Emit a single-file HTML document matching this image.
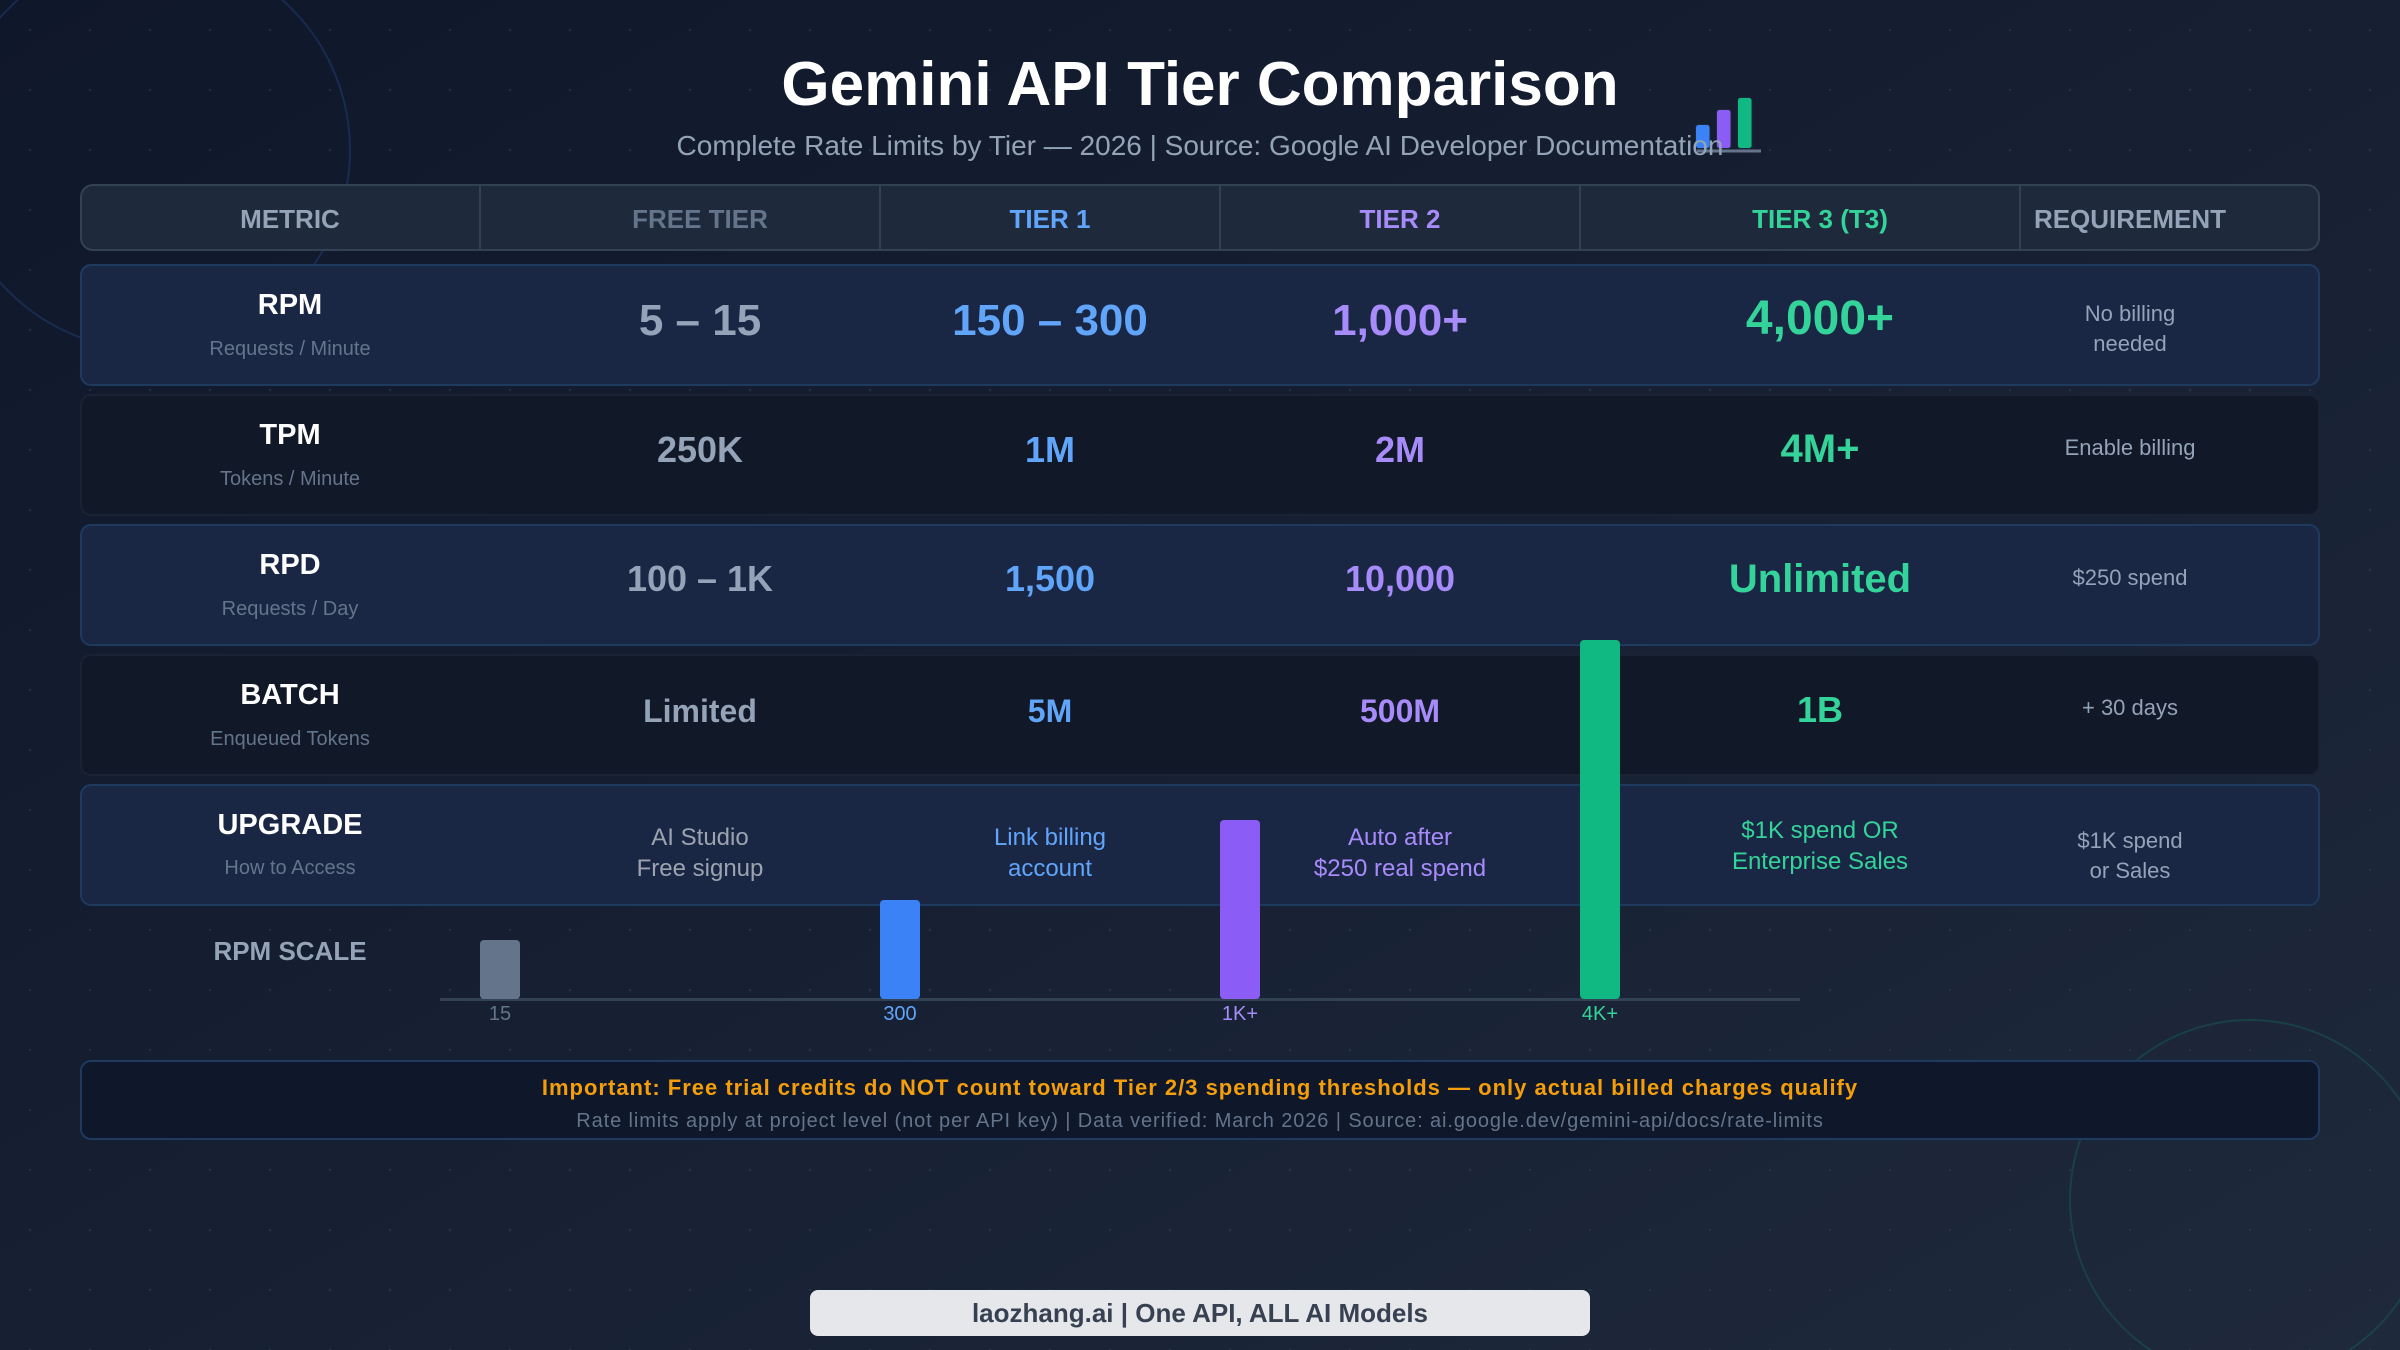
<!DOCTYPE html>
<html>
<head>
<meta charset="utf-8">
<style>
  html, body { margin: 0; padding: 0; background: #0f172a; }
  body { width: 2400px; height: 1350px; overflow: hidden; }
  svg { display: block; }
  text { font-family: "Liberation Sans", Arial, sans-serif; }
</style>
</head>
<body>
<svg width="2400" height="1350" viewBox="0 0 2400 1350" xmlns="http://www.w3.org/2000/svg">
  <defs>
    <linearGradient id="bg" x1="0" y1="0" x2="1" y2="1">
      <stop offset="0" stop-color="#0f172a"/>
      <stop offset="1" stop-color="#1e293b"/>
    </linearGradient>
    <pattern id="dots" x="0" y="0" width="60" height="60" patternUnits="userSpaceOnUse">
      <rect x="29" y="29" width="2" height="2" fill="#334155" opacity="0.55"/>
    </pattern>
  </defs>

  <!-- background -->
  <rect x="0" y="0" width="2400" height="1350" fill="url(#bg)"/>
  <rect x="0" y="0" width="2400" height="1350" fill="url(#dots)"/>

  <!-- decorative circles -->
  <circle cx="150" cy="150" r="200" fill="none" stroke="#3b82f6" stroke-opacity="0.18" stroke-width="2"/>
  <circle cx="2250" cy="1200" r="180" fill="none" stroke="#10b981" stroke-opacity="0.18" stroke-width="2"/>

  <!-- title icon -->
  <rect x="1695.5" y="124.5" width="14.5" height="24" rx="3" fill="#3b82f6" stroke="#1e293b" stroke-width="1"/>
  <rect x="1716.5" y="109.5" width="14.5" height="39" rx="3" fill="#8b5cf6" stroke="#1e293b" stroke-width="1"/>
  <rect x="1737.5" y="97.5" width="14.5" height="51" rx="3" fill="#10b981" stroke="#1e293b" stroke-width="1"/>
  <rect x="1697" y="149.5" width="64" height="3" fill="#64748b"/>

  <!-- title -->
  <text x="1200" y="105" text-anchor="middle" font-size="62" font-weight="bold" fill="#ffffff">Gemini API Tier Comparison</text>
  <text x="1200" y="155" text-anchor="middle" font-size="28" fill="#94a3b8">Complete Rate Limits by Tier — 2026 | Source: Google AI Developer Documentation</text>

  <!-- header -->
  <rect x="81" y="185" width="2238" height="65" rx="12" fill="#1e293b" stroke="#334155" stroke-width="2"/>
  <g stroke="#334155" stroke-width="2">
    <line x1="480" y1="186" x2="480" y2="249"/>
    <line x1="880" y1="186" x2="880" y2="249"/>
    <line x1="1220" y1="186" x2="1220" y2="249"/>
    <line x1="1580" y1="186" x2="1580" y2="249"/>
    <line x1="2020" y1="186" x2="2020" y2="249"/>
  </g>
  <g font-size="26" font-weight="bold" text-anchor="middle">
    <text x="290" y="228" fill="#94a3b8">METRIC</text>
    <text x="700" y="228" fill="#64748b">FREE TIER</text>
    <text x="1050" y="228" fill="#60a5fa">TIER 1</text>
    <text x="1400" y="228" fill="#a78bfa">TIER 2</text>
    <text x="1820" y="228" fill="#34d399">TIER 3 (T3)</text>
    <text x="2130" y="228" fill="#94a3b8">REQUIREMENT</text>
  </g>

  <!-- rows backgrounds -->
  <rect x="81" y="265" width="2238" height="120" rx="10" fill="#1a2744" stroke="#1e3a5f" stroke-width="2"/>
  <rect x="81" y="395" width="2238" height="120" rx="10" fill="#111827" stroke="#1a2333" stroke-width="2"/>
  <rect x="81" y="525" width="2238" height="120" rx="10" fill="#1a2744" stroke="#1e3a5f" stroke-width="2"/>
  <rect x="81" y="655" width="2238" height="120" rx="10" fill="#111827" stroke="#1a2333" stroke-width="2"/>
  <rect x="81" y="785" width="2238" height="120" rx="10" fill="#1a2744" stroke="#1e3a5f" stroke-width="2"/>

  <!-- Row 1: RPM -->
  <text x="290" y="314" text-anchor="middle" font-size="29" font-weight="bold" fill="#ffffff">RPM</text>
  <text x="290" y="355" text-anchor="middle" font-size="20" fill="#64748b">Requests / Minute</text>
  <g text-anchor="middle" font-weight="bold">
    <text x="700" y="335" font-size="44" fill="#94a3b8">5 – 15</text>
    <text x="1050" y="335" font-size="44" fill="#60a5fa">150 – 300</text>
    <text x="1400" y="335" font-size="44" fill="#a78bfa">1,000+</text>
    <text x="1820" y="334" font-size="48" fill="#34d399">4,000+</text>
  </g>
  <text x="2130" y="321" text-anchor="middle" font-size="22" fill="#94a3b8">No billing</text>
  <text x="2130" y="351" text-anchor="middle" font-size="22" fill="#94a3b8">needed</text>

  <!-- Row 2: TPM -->
  <text x="290" y="444" text-anchor="middle" font-size="29" font-weight="bold" fill="#ffffff">TPM</text>
  <text x="290" y="485" text-anchor="middle" font-size="20" fill="#64748b">Tokens / Minute</text>
  <g text-anchor="middle" font-weight="bold">
    <text x="700" y="462" font-size="36" fill="#94a3b8">250K</text>
    <text x="1050" y="462" font-size="36" fill="#60a5fa">1M</text>
    <text x="1400" y="462" font-size="36" fill="#a78bfa">2M</text>
    <text x="1820" y="462" font-size="40" fill="#34d399">4M+</text>
  </g>
  <text x="2130" y="455" text-anchor="middle" font-size="22" fill="#94a3b8">Enable billing</text>

  <!-- Row 3: RPD -->
  <text x="290" y="574" text-anchor="middle" font-size="29" font-weight="bold" fill="#ffffff">RPD</text>
  <text x="290" y="615" text-anchor="middle" font-size="20" fill="#64748b">Requests / Day</text>
  <g text-anchor="middle" font-weight="bold">
    <text x="700" y="591" font-size="36" fill="#94a3b8">100 – 1K</text>
    <text x="1050" y="591" font-size="36" fill="#60a5fa">1,500</text>
    <text x="1400" y="591" font-size="36" fill="#a78bfa">10,000</text>
    <text x="1820" y="592" font-size="40" fill="#34d399">Unlimited</text>
  </g>
  <text x="2130" y="585" text-anchor="middle" font-size="22" fill="#94a3b8">$250 spend</text>

  <!-- Row 4: BATCH -->
  <text x="290" y="704" text-anchor="middle" font-size="29" font-weight="bold" fill="#ffffff">BATCH</text>
  <text x="290" y="745" text-anchor="middle" font-size="20" fill="#64748b">Enqueued Tokens</text>
  <g text-anchor="middle" font-weight="bold">
    <text x="700" y="722" font-size="32" fill="#94a3b8">Limited</text>
    <text x="1050" y="722" font-size="32" fill="#60a5fa">5M</text>
    <text x="1400" y="722" font-size="32" fill="#a78bfa">500M</text>
    <text x="1820" y="722" font-size="36" fill="#34d399">1B</text>
  </g>
  <text x="2130" y="715" text-anchor="middle" font-size="22" fill="#94a3b8">+ 30 days</text>

  <!-- Row 5: UPGRADE -->
  <text x="290" y="834" text-anchor="middle" font-size="29" font-weight="bold" fill="#ffffff">UPGRADE</text>
  <text x="290" y="874" text-anchor="middle" font-size="20" fill="#64748b">How to Access</text>
  <g text-anchor="middle" font-size="24">
    <text x="700" y="845" fill="#9ca3af">AI Studio</text>
    <text x="700" y="876" fill="#9ca3af">Free signup</text>
    <text x="1050" y="845" fill="#60a5fa">Link billing</text>
    <text x="1050" y="876" fill="#60a5fa">account</text>
    <text x="1400" y="845" fill="#a78bfa">Auto after</text>
    <text x="1400" y="876" fill="#a78bfa">$250 real spend</text>
    <text x="1820" y="838" fill="#34d399">$1K spend OR</text>
    <text x="1820" y="869" fill="#34d399">Enterprise Sales</text>
  </g>
  <text x="2130" y="848" text-anchor="middle" font-size="22" fill="#94a3b8">$1K spend</text>
  <text x="2130" y="878" text-anchor="middle" font-size="22" fill="#94a3b8">or Sales</text>

  <!-- RPM scale -->
  <text x="290" y="960" text-anchor="middle" font-size="26" font-weight="bold" fill="#94a3b8">RPM SCALE</text>
  <rect x="440" y="998" width="1360" height="3" fill="#334155"/>
  <rect x="480" y="940" width="40" height="59" rx="4" fill="#64748b"/>
  <rect x="880" y="900" width="40" height="99" rx="4" fill="#3b82f6"/>
  <rect x="1220" y="820" width="40" height="179" rx="4" fill="#8b5cf6"/>
  <rect x="1580" y="640" width="40" height="359" rx="4" fill="#10b981"/>
  <g text-anchor="middle" font-size="20">
    <text x="500" y="1020" fill="#64748b">15</text>
    <text x="900" y="1020" fill="#60a5fa">300</text>
    <text x="1240" y="1020" fill="#a78bfa">1K+</text>
    <text x="1600" y="1020" fill="#34d399">4K+</text>
  </g>

  <!-- footer note -->
  <rect x="81" y="1061" width="2238" height="78" rx="10" fill="#0f172a" stroke="#1e3a5f" stroke-width="2"/>
  <text x="1200" y="1095" text-anchor="middle" font-size="22" font-weight="bold" letter-spacing="1" fill="#f59e0b">Important: Free trial credits do NOT count toward Tier 2/3 spending thresholds — only actual billed charges qualify</text>
  <text x="1200" y="1127" text-anchor="middle" font-size="20" letter-spacing="0.9" fill="#64748b">Rate limits apply at project level (not per API key) | Data verified: March 2026 | Source: ai.google.dev/gemini-api/docs/rate-limits</text>

  <!-- brand pill -->
  <rect x="810" y="1290" width="780" height="46" rx="8" fill="#e5e7eb"/>
  <text x="1200" y="1322" text-anchor="middle" font-size="26" font-weight="bold" fill="#374151">laozhang.ai | One API, ALL AI Models</text>
</svg>
</body>
</html>
